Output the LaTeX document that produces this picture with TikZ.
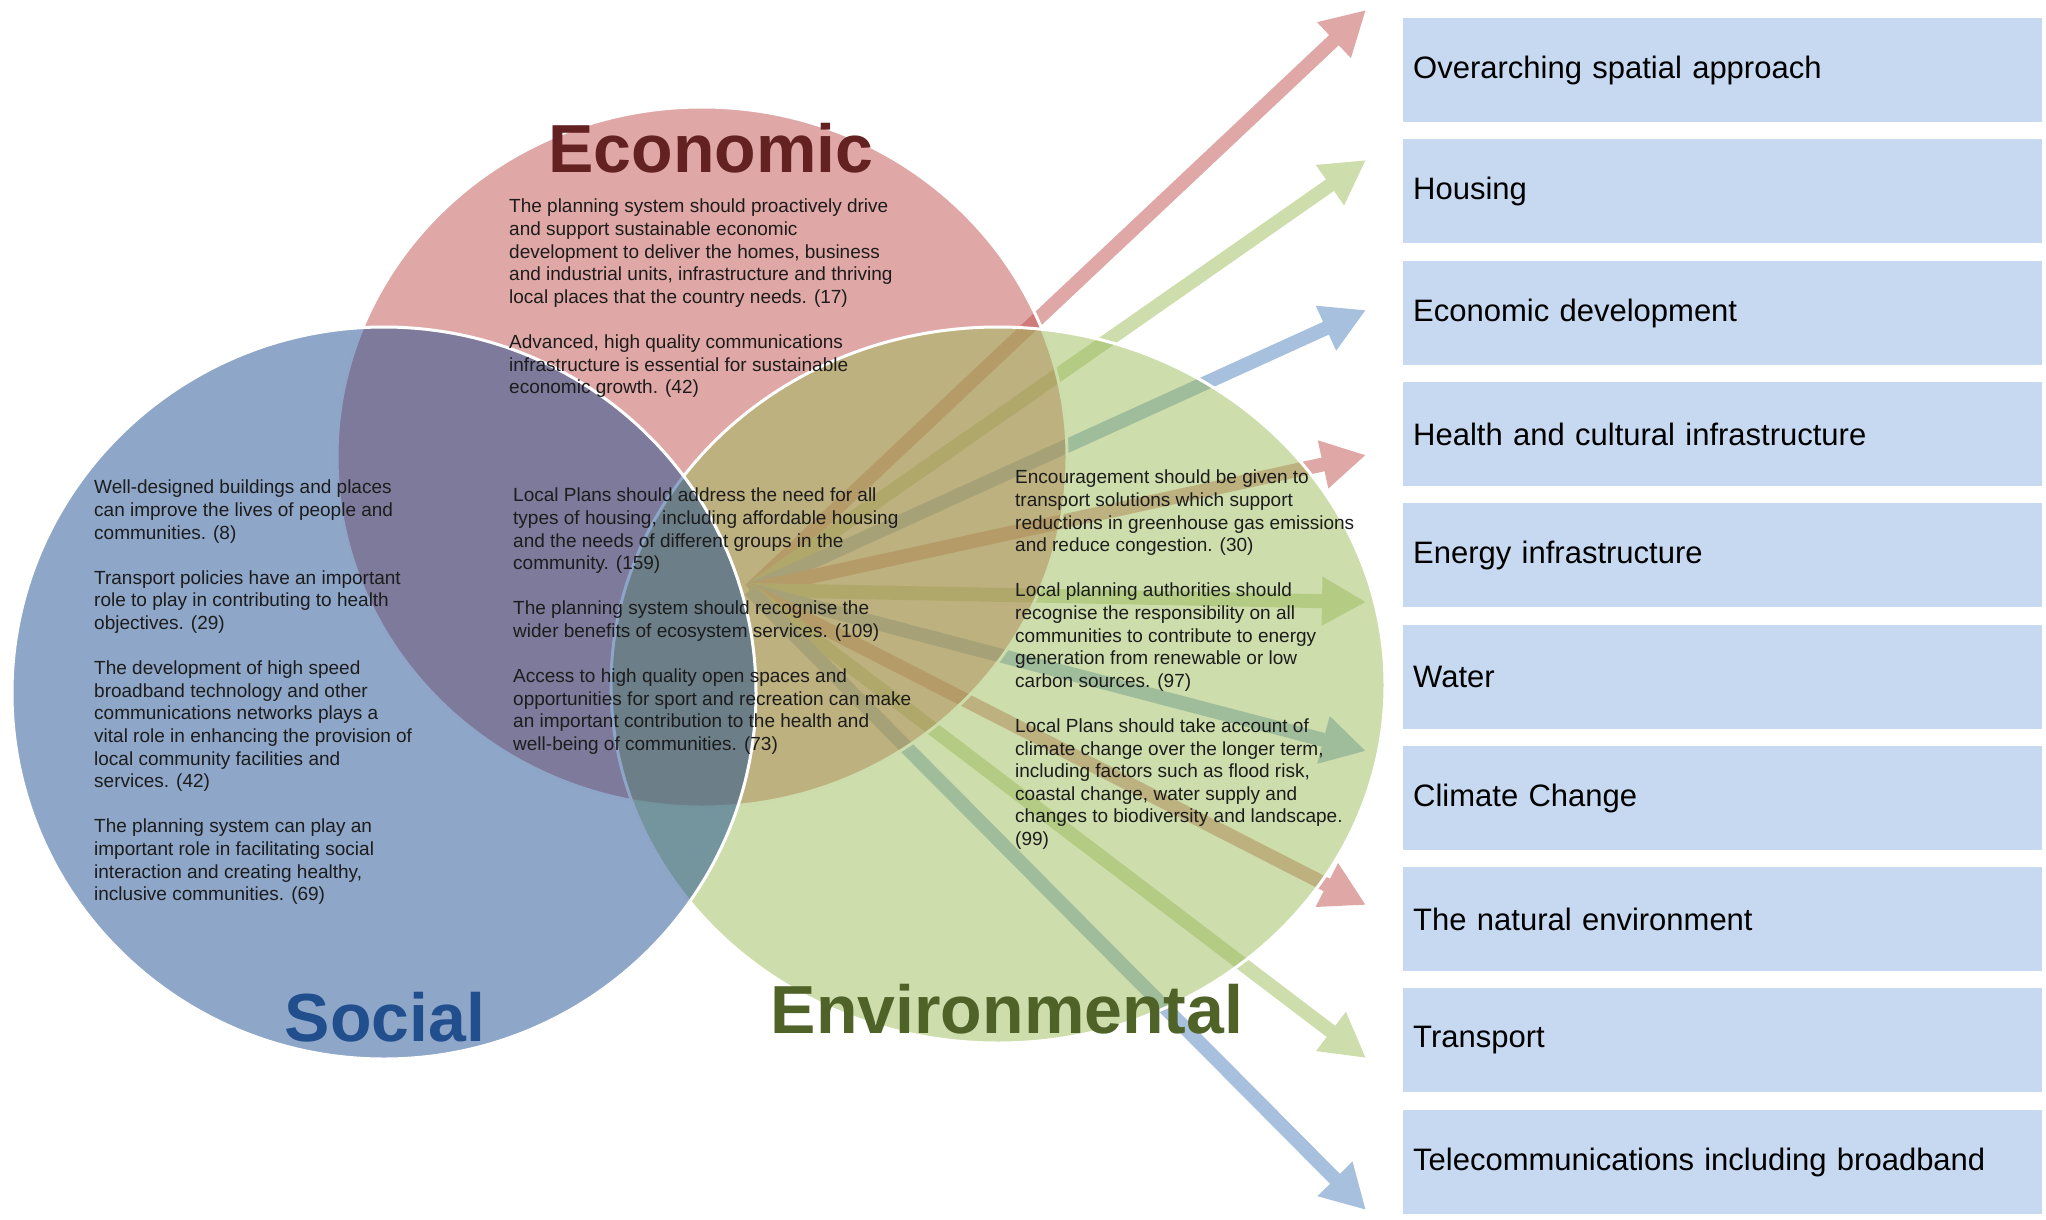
\documentclass[tikz,border=0pt]{standalone}
\usepackage{fontspec}
\setmainfont{Liberation Sans}
\usetikzlibrary{arrows.meta}
\definecolor{econ}{RGB}{192,80,77}
\definecolor{env}{RGB}{155,187,89}
\definecolor{soc}{RGB}{30,77,145}
\definecolor{raublue}{RGB}{79,129,189}
\definecolor{boxblue}{RGB}{198,217,241}
\definecolor{econdark}{RGB}{99,33,33}
\definecolor{socdark}{RGB}{33,78,140}
\definecolor{envdark}{RGB}{79,98,40}
\definecolor{txtgray}{RGB}{28,28,28}
\tikzset{
  venn/.style={fill opacity=0.5, draw=white, line width=3pt},
  ray/.style={line width=14pt, -{Triangle[length=44pt,width=46pt]}},
  topic/.style={anchor=north west, fill=boxblue, minimum width=639pt, minimum height=104pt,
    text width=619pt, inner xsep=10pt, inner ysep=0pt, align=left,
    font=\fontsize{31}{37}\selectfont},
  blurb/.style={anchor=north west, inner sep=0pt, align=left, text=txtgray,
    font=\fontsize{19}{22.6}\selectfont},
  heading/.style={anchor=base, inner sep=0pt, font=\fontsize{68}{80}\selectfont\bfseries}
}
\begin{document}
\begin{tikzpicture}[x=1pt,y=-1pt]
  \useasboundingbox (0,0) rectangle (2046,1219);
  % topics
  \node [topic] (b1) at (1403,18) {Overarching spatial approach};
  \node [topic] (b2) at (1403,139) {Housing};
  \node [topic] (b3) at (1403,261) {Economic development};
  \node [topic] (b4) at (1403,382) {Health and cultural infrastructure};
  \node [topic] (b5) at (1403,503) {Energy infrastructure};
  \node [topic] (b6) at (1403,625) {Water};
  \node [topic] (b7) at (1403,746) {Climate Change};
  \node [topic] (b8) at (1403,867) {The natural environment};
  \node [topic] (b9) at (1403,988) {Transport};
  \node [topic] (b10) at (1403,1110) {Telecommunications including broadband};
  % rays
  \coordinate (hub) at (750,590);
  \coordinate (t1) at (1366,10);
  \coordinate (t2) at (1366,160);
  \coordinate (t3) at (1366,310);
  \coordinate (t4) at (1366,455);
  \coordinate (t5) at (1366,602);
  \coordinate (t6) at (1366,751);
  \coordinate (t7) at (1366,905);
  \coordinate (t8) at (1366,1058);
  \coordinate (t9) at (1366,1210);
  \draw [ray,econ!50] (hub) -- (t1);
  \draw [ray,env!50] (hub) -- (t2);
  \draw [ray,raublue!50] (hub) -- (t3);
  \draw [ray,econ!50] (hub) -- (t4);
  \draw [ray,env!50] (hub) -- (t5);
  \draw [ray,raublue!50] (hub) -- (t6);
  \draw [ray,econ!50] (hub) -- (t7);
  \draw [ray,env!50] (hub) -- (t8);
  \draw [ray,raublue!50] (hub) -- (t9);
  % circles
  \filldraw [venn,fill=econ] (702,457) ellipse [x radius=365pt, y radius=350pt];
  \filldraw [venn,fill=env] (998,685) ellipse [x radius=387pt, y radius=358pt];
  \filldraw [venn,fill=soc] (384,693) ellipse [x radius=372pt, y radius=366pt];
  % headings
  \node [heading,text=econdark] (econtitle) at (711,172) {Economic};
  \node [heading,text=socdark] (soctitle) at (385,1041) {Social};
  \node [heading,text=envdark] (envtitle) at (1007,1033) {Environmental};
  % policy text
  \node [blurb] (econtxt) at (509,199) {The planning system should proactively drive\\
    and support sustainable economic\\
    development to deliver the homes, business\\
    and industrial units, infrastructure and thriving\\
    local places that the country needs. (17)\\[22.6pt]
    Advanced, high quality communications\\
    infrastructure is essential for sustainable\\
    economic growth. (42)};
  \node [blurb] (soctxt) at (94,480) {Well-designed buildings and places\\
    can improve the lives of people and\\
    communities. (8)\\[22.6pt]
    Transport policies have an important\\
    role to play in contributing to health\\
    objectives. (29)\\[22.6pt]
    The development of high speed\\
    broadband technology and other\\
    communications networks plays a\\
    vital role in enhancing the provision of\\
    local community facilities and\\
    services. (42)\\[22.6pt]
    The planning system can play an\\
    important role in facilitating social\\
    interaction and creating healthy,\\
    inclusive communities. (69)};
  \node [blurb] (midtxt) at (513,488) {Local Plans should address the need for all\\
    types of housing, including affordable housing\\
    and the needs of different groups in the\\
    community. (159)\\[22.6pt]
    The planning system should recognise the\\
    wider benefits of ecosystem services. (109)\\[22.6pt]
    Access to high quality open spaces and\\
    opportunities for sport and recreation can make\\
    an important contribution to the health and\\
    well-being of communities. (73)};
  \node [blurb] (envtxt) at (1015,470) {Encouragement should be given to\\
    transport solutions which support\\
    reductions in greenhouse gas emissions\\
    and reduce congestion. (30)\\[22.6pt]
    Local planning authorities should\\
    recognise the responsibility on all\\
    communities to contribute to energy\\
    generation from renewable or low\\
    carbon sources. (97)\\[22.6pt]
    Local Plans should take account of\\
    climate change over the longer term,\\
    including factors such as flood risk,\\
    coastal change, water supply and\\
    changes to biodiversity and landscape.\\
    (99)};
\end{tikzpicture}
\end{document}
